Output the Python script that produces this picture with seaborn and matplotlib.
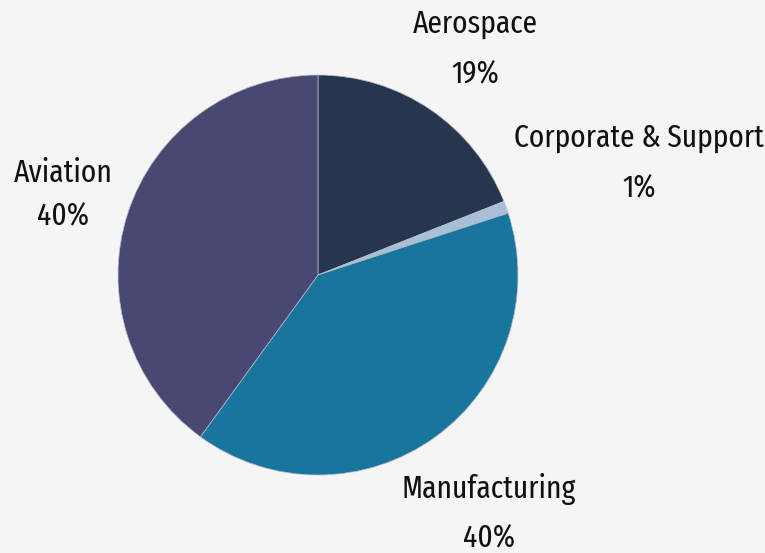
import matplotlib
matplotlib.use("Agg")
import matplotlib.pyplot as plt
import seaborn as sns

segments = ["Aerospace", "Corporate & Support", "Manufacturing", "Aviation"]
shares = [19, 1, 40, 40]
colors = ["#27364F", "#A9BFD6", "#17759E", "#484872"]

sns.set_theme(style="white", rc={"figure.facecolor": "#F5F5F5", "axes.facecolor": "#F5F5F5"})
plt.rcParams["font.family"] = ["Fira Sans Extra Condensed", "DejaVu Sans"]

W, H = 765, 553
fig = plt.figure(figsize=(W / 100, H / 100), dpi=100)
cx, cy, r = 318, 275, 200
ax = fig.add_axes([(cx - r) / W, (H - cy - r) / H, 2 * r / W, 2 * r / H])
ax.pie(shares, colors=sns.color_palette(colors), startangle=90, counterclock=False,
       radius=1, wedgeprops=dict(edgecolor="#B8BCC8", linewidth=0.5))
ax.set_xlim(-1, 1)
ax.set_ylim(-1, 1)
ax.set_aspect("equal")
ax.axis("off")

# label placement: centre x and the baselines of the name and percentage lines (pixels)
label_pos = {
    "Aerospace": (475, 33, 83),
    "Corporate & Support": (639, 147, 197),
    "Manufacturing": (489, 498, 547),
    "Aviation": (63, 182, 225),
}
for name, val in zip(segments, shares):
    x, y1, y2 = label_pos[name]
    for txt, y in ((name, y1), (f"{val}%", y2)):
        fig.text(x / W, 1 - y / H, txt, ha="center", va="baseline",
                 fontsize=23, color="#111111")

fig.savefig("out.png", dpi=100, facecolor=fig.get_facecolor())
